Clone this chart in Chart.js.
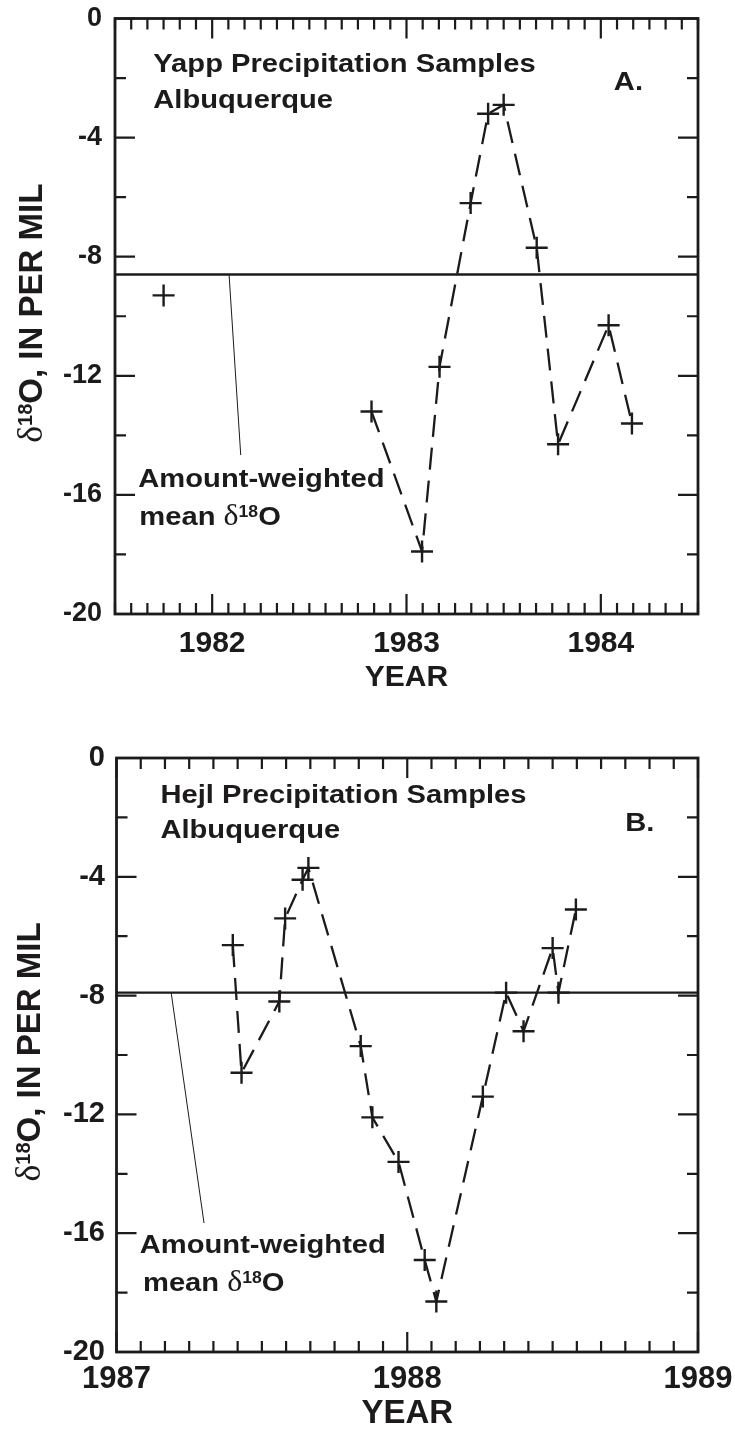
<!DOCTYPE html>
<html>
<head>
<meta charset="utf-8">
<script src="https://cdn.jsdelivr.net/npm/chart.js@4.4.1/dist/chart.umd.min.js"></script>
<style>
  body { margin: 0; background: #fff; }
  #wrap { position: relative; width: 735px; height: 1435px; }
  canvas { position: absolute; left: 0; }
  #chartA { top: 0; }
  #chartB { top: 718px; }
</style>
</head>
<body>
<div id="wrap">
  <canvas id="chartA" width="735" height="718"></canvas>
  <canvas id="chartB" width="735" height="717"></canvas>
</div>
<script>
// Panel A - Yapp precipitation samples, Albuquerque
const yappYears = [1981.75, 1982.82, 1983.08, 1983.17, 1983.33, 1983.42, 1983.50, 1983.67, 1983.78, 1984.04, 1984.16];
const yappD18O  = [-9.3, -13.2, -17.9, -11.7, -6.2, -3.2, -2.9, -7.7, -14.3, -10.3, -13.6];
const yappMean  = -8.6;
const yappYearRange = [1981.5, 1984.5];

// Panel B - Hejl precipitation samples, Albuquerque
const hejlYears = [1987.40, 1987.43, 1987.56, 1987.58, 1987.64, 1987.66, 1987.84, 1987.88, 1987.97,
                   1988.06, 1988.10, 1988.26, 1988.34, 1988.40, 1988.50, 1988.52, 1988.58];
const hejlD18O  = [-6.3, -10.6, -8.2, -5.4, -4.1, -3.7, -9.7, -12.1, -13.6,
                   -16.9, -18.3, -11.4, -7.9, -9.2, -6.4, -7.9, -5.1];
const hejlMean  = -7.9;
const hejlYearRange = [1987, 1989];

// shared y axis: 0 to -20 per mil, labelled every 4, ticks every 2
const d18ORange = [-20, 0];
const d18OTickStep = 2;
const d18OLabelStep = 4;
const monthStep = 1 / 12;

const INK = "#1c1a1b";
const SANS = '"Liberation Sans", Arial, Helvetica, sans-serif';
const SERIF = '"Liberation Serif", "Times New Roman", serif';

Chart.defaults.font.family = SANS;
Chart.defaults.color = INK;

function isWhole(v) {
    return Math.abs(v - Math.round(v)) < 1e-6;
}

// draws a run of text pieces (font / raise) one after the other
function drawRich(ctx, parts, x, y) {
    let cx = x;
    parts.forEach(p => {
        ctx.font = p.font;
        ctx.fillText(p.text, cx, y - (p.raise || 0));
        cx += ctx.measureText(p.text).width;
    });
}

function richWidth(ctx, parts) {
    let w = 0;
    parts.forEach(p => { ctx.font = p.font; w += ctx.measureText(p.text).width; });
    return w;
}

function deltaParts(size, rest) {
    return [
        { text: "\u03B4", font: Math.round(size * 1.1) + "px " + SERIF },
        { text: "18", font: "bold " + Math.round(size * 0.62) + "px " + SANS, raise: size * 0.3 },
        { text: "O" + rest, font: "bold " + size + "px " + SANS }
    ];
}

// fixed axis box sizes, no extra label overhang padding
function fixBox(s, size) {
    if (s.isHorizontal()) s.height = size; else s.width = size;
    s.paddingTop = 0; s.paddingBottom = 0;
    s.paddingLeft = 0; s.paddingRight = 0;
}

const panelDecor = {
    id: "panelDecor",
    afterDatasetsDraw(chart, args, o) {
        const { ctx, chartArea: a, scales: { x, y } } = chart;
        ctx.save();
        ctx.strokeStyle = INK;
        ctx.fillStyle = INK;

        // inward ticks on all four sides
        ctx.lineWidth = 2.2;
        ctx.beginPath();
        x.ticks.forEach(t => {
            const px = x.getPixelForValue(t.value);
            const len = isWhole(t.value) ? 20 : 11;
            ctx.moveTo(px, a.bottom); ctx.lineTo(px, a.bottom - len);
            ctx.moveTo(px, a.top); ctx.lineTo(px, a.top + len);
        });
        y.ticks.forEach(t => {
            const py = y.getPixelForValue(t.value);
            const len = t.value % d18OLabelStep === 0 ? 20 : 11;
            ctx.moveTo(a.left, py); ctx.lineTo(a.left + len, py);
            ctx.moveTo(a.right, py); ctx.lineTo(a.right - len, py);
        });
        ctx.stroke();

        ctx.lineWidth = 2.8;
        ctx.strokeRect(a.left, a.top, a.width, a.height);

        // thin pointer from the mean line to its label
        ctx.lineWidth = 1;
        ctx.beginPath();
        ctx.moveTo(x.getPixelForValue(o.pointer[0][0]), y.getPixelForValue(o.pointer[0][1]));
        ctx.lineTo(x.getPixelForValue(o.pointer[1][0]), y.getPixelForValue(o.pointer[1][1]));
        ctx.stroke();

        // labels inside the plot
        ctx.textBaseline = "alphabetic";
        ctx.textAlign = "left";
        o.notes.forEach(n => {
            const lead = [{ text: n.text, font: "bold " + o.noteSize + "px " + SANS }];
            const parts = n.delta ? lead.concat(deltaParts(o.noteSize, "")) : lead;
            ctx.save();
            ctx.translate(x.getPixelForValue(n.at[0]), y.getPixelForValue(n.at[1]));
            ctx.scale(1.1, 1);
            drawRich(ctx, parts, 0, 0);
            ctx.restore();
        });

        // y axis title, rotated
        const tp = deltaParts(o.titleSize, ", IN PER MIL");
        const tw = richWidth(ctx, tp);
        ctx.save();
        ctx.translate(o.titleX, (a.top + a.bottom) / 2 - 3);
        ctx.rotate(-Math.PI / 2);
        drawRich(ctx, tp, -tw / 2, 0);
        ctx.restore();

        ctx.restore();
    }
};

function makePanel(canvasId, years, values, mean, yearRange, opt) {
    const pts = years.map((yr, i) => ({ x: yr, y: values[i] }));
    return new Chart(document.getElementById(canvasId), {
        type: "scatter",
        data: {
            datasets: [{
                data: pts,
                showLine: true,
                borderColor: INK,
                borderWidth: 2.3,
                borderDash: [22, 11],
                segment: {
                    borderColor: c => c.p0DataIndex < opt.lineStart ? "rgba(0,0,0,0)" : INK
                },
                pointStyle: "cross",
                pointRadius: 11,
                pointBorderWidth: 2.4,
                pointBorderColor: INK,
                pointBackgroundColor: INK
            }, {
                data: [{ x: yearRange[0], y: mean }, { x: yearRange[1], y: mean }],
                showLine: true,
                borderColor: INK,
                borderWidth: 2.4,
                pointRadius: 0
            }]
        },
        options: {
            responsive: false,
            animation: false,
            events: [],
            layout: { padding: { top: opt.padTop, right: opt.padRight, left: 0, bottom: 0 } },
            plugins: {
                legend: { display: false },
                tooltip: { enabled: false },
                panelDecor: opt.decor
            },
            scales: {
                x: {
                    type: "linear",
                    min: yearRange[0],
                    max: yearRange[1],
                    grid: { display: false, drawTicks: false },
                    border: { display: false },
                    ticks: {
                        stepSize: monthStep,
                        autoSkip: false,
                        maxRotation: 0,
                        padding: opt.xTickPad,
                        font: { size: opt.xTickSize, weight: "bold" },
                        color: INK,
                        callback: v => isWhole(v) ? String(Math.round(v)) : ""
                    },
                    title: {
                        display: true,
                        text: "YEAR",
                        font: { size: opt.xTitleSize, weight: "bold" },
                        color: INK,
                        padding: { top: 0, bottom: opt.xTitlePad }
                    },
                    afterFit: s => fixBox(s, opt.xAxisHeight)
                },
                y: {
                    type: "linear",
                    min: d18ORange[0],
                    max: d18ORange[1],
                    grid: { display: false, drawTicks: false },
                    border: { display: false },
                    ticks: {
                        stepSize: d18OTickStep,
                        autoSkip: false,
                        padding: opt.yTickPad,
                        font: { size: opt.yTickSize, weight: "bold" },
                        color: INK,
                        callback: v => v % d18OLabelStep === 0 ? String(v) : ""
                    },
                    afterFit: s => fixBox(s, opt.yAxisWidth)
                }
            }
        },
        plugins: [panelDecor]
    });
}

makePanel("chartA", yappYears, yappD18O, yappMean, yappYearRange, {
    lineStart: 1,
    padTop: 18.5, padRight: 37,
    yAxisWidth: 115, xAxisHeight: 104,
    yTickPad: 13, yTickSize: 27,
    xTickPad: 12, xTickSize: 30,
    xTitleSize: 30, xTitlePad: 22,
    decor: {
        titleX: 41.5, titleSize: 33, noteSize: 26.5,
        pointer: [[1982.087, yappMean], [1982.147, -14.66]],
        notes: [
            { text: "Yapp Precipitation Samples", at: [1981.697, -1.79] },
            { text: "Albuquerque", at: [1981.697, -3.02] },
            { text: "A.", at: [1984.067, -2.39] },
            { text: "Amount-weighted", at: [1981.62, -15.74] },
            { text: "mean ", at: [1981.625, -17.01], delta: true }
        ]
    }
});

makePanel("chartB", hejlYears, hejlD18O, hejlMean, hejlYearRange, {
    lineStart: 0,
    padTop: 40, padRight: 37,
    yAxisWidth: 116.5, xAxisHeight: 83,
    yTickPad: 11.5, yTickSize: 29,
    xTickPad: 9, xTickSize: 31,
    xTitleSize: 33, xTitlePad: 1,
    decor: {
        titleX: 40, titleSize: 33, noteSize: 26.5,
        pointer: [[1987.188, hejlMean], [1987.301, -15.66]],
        notes: [
            { text: "Hejl Precipitation Samples", at: [1987.151, -1.52] },
            { text: "Albuquerque", at: [1987.151, -2.70] },
            { text: "B.", at: [1988.75, -2.46] },
            { text: "Amount-weighted", at: [1987.08, -16.65] },
            { text: "mean ", at: [1987.091, -17.96], delta: true }
        ]
    }
});
</script>
</body>
</html>
